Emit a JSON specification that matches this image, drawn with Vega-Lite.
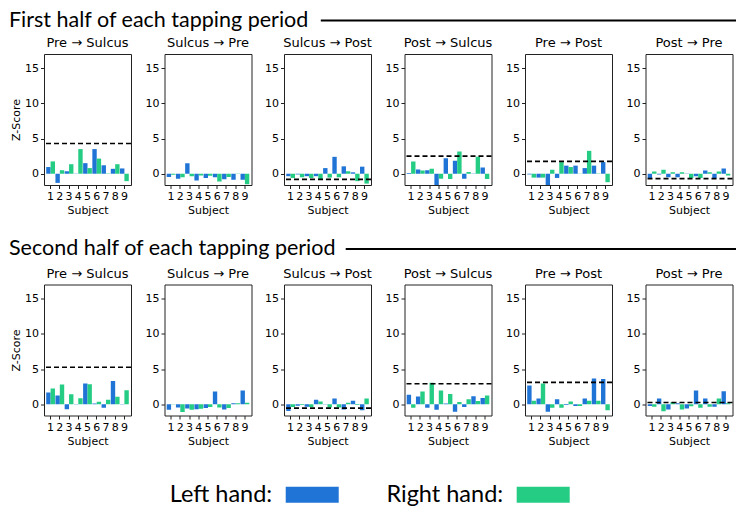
{
  "$schema": "https://vega.github.io/schema/vega-lite/v6.json",
  "background": "white",
  "padding": {"left": 8, "top": 9.5, "right": 2, "bottom": 2},
  "config": {
    "view": {"stroke": "#222", "strokeWidth": 1},
    "axis": {"domain": false, "grid": false, "tickColor": "#222", "tickSize": 3.5, "labelFont": "DejaVu Sans", "labelFontSize": 11, "labelColor": "#000", "labelPadding": 2, "titleFont": "DejaVu Sans", "titleFontSize": 11, "titleFontWeight": "normal", "titleColor": "#000", "titlePadding": 3},
    "axisX": {"labelAngle": 0},
    "title": {"font": "DejaVu Sans", "fontSize": 13, "fontWeight": "normal", "color": "#000", "offset": 4}
  },
  "datasets": {
    "z": [
      {"half": "first", "pair": "Pre → Sulcus", "subject": 1, "Left hand": 0.95, "Right hand": 1.75},
      {"half": "first", "pair": "Pre → Sulcus", "subject": 2, "Left hand": -1.3, "Right hand": 0.5},
      {"half": "first", "pair": "Pre → Sulcus", "subject": 3, "Left hand": 0.35, "Right hand": 1.35},
      {"half": "first", "pair": "Pre → Sulcus", "subject": 4, "Left hand": 0.03, "Right hand": 3.5},
      {"half": "first", "pair": "Pre → Sulcus", "subject": 5, "Left hand": 1.5, "Right hand": 0.8},
      {"half": "first", "pair": "Pre → Sulcus", "subject": 6, "Left hand": 3.5, "Right hand": 2.15},
      {"half": "first", "pair": "Pre → Sulcus", "subject": 7, "Left hand": 1.2, "Right hand": 0.05},
      {"half": "first", "pair": "Pre → Sulcus", "subject": 8, "Left hand": 0.7, "Right hand": 1.35},
      {"half": "first", "pair": "Pre → Sulcus", "subject": 9, "Left hand": 0.75, "Right hand": -1.05},
      {"half": "first", "pair": "Sulcus → Pre", "subject": 1, "Left hand": -0.45, "Right hand": -0.15},
      {"half": "first", "pair": "Sulcus → Pre", "subject": 2, "Left hand": -0.7, "Right hand": -0.5},
      {"half": "first", "pair": "Sulcus → Pre", "subject": 3, "Left hand": 1.5, "Right hand": -0.35},
      {"half": "first", "pair": "Sulcus → Pre", "subject": 4, "Left hand": -0.95, "Right hand": -0.25},
      {"half": "first", "pair": "Sulcus → Pre", "subject": 5, "Left hand": -0.6, "Right hand": -0.3},
      {"half": "first", "pair": "Sulcus → Pre", "subject": 6, "Left hand": -0.5, "Right hand": -1.1},
      {"half": "first", "pair": "Sulcus → Pre", "subject": 7, "Left hand": -0.8, "Right hand": -0.45},
      {"half": "first", "pair": "Sulcus → Pre", "subject": 8, "Left hand": -0.85, "Right hand": -0.05},
      {"half": "first", "pair": "Sulcus → Pre", "subject": 9, "Left hand": -0.85, "Right hand": -1.5},
      {"half": "first", "pair": "Sulcus → Post", "subject": 1, "Left hand": -0.35, "Right hand": -0.6},
      {"half": "first", "pair": "Sulcus → Post", "subject": 2, "Left hand": -0.1, "Right hand": -0.5},
      {"half": "first", "pair": "Sulcus → Post", "subject": 3, "Left hand": -0.35, "Right hand": -0.6},
      {"half": "first", "pair": "Sulcus → Post", "subject": 4, "Left hand": -0.35, "Right hand": -0.85},
      {"half": "first", "pair": "Sulcus → Post", "subject": 5, "Left hand": 0.8, "Right hand": -0.55},
      {"half": "first", "pair": "Sulcus → Post", "subject": 6, "Left hand": 2.4, "Right hand": -0.5},
      {"half": "first", "pair": "Sulcus → Post", "subject": 7, "Left hand": 1.05, "Right hand": 0.35},
      {"half": "first", "pair": "Sulcus → Post", "subject": 8, "Left hand": 0.2, "Right hand": -1.05},
      {"half": "first", "pair": "Sulcus → Post", "subject": 9, "Left hand": 1.0, "Right hand": -1.4},
      {"half": "first", "pair": "Post → Sulcus", "subject": 1, "Left hand": 0.1, "Right hand": 1.75},
      {"half": "first", "pair": "Post → Sulcus", "subject": 2, "Left hand": 0.6, "Right hand": 0.45},
      {"half": "first", "pair": "Post → Sulcus", "subject": 3, "Left hand": 0.5, "Right hand": 0.7},
      {"half": "first", "pair": "Post → Sulcus", "subject": 4, "Left hand": -1.6, "Right hand": -0.7},
      {"half": "first", "pair": "Post → Sulcus", "subject": 5, "Left hand": 2.2, "Right hand": -0.75},
      {"half": "first", "pair": "Post → Sulcus", "subject": 6, "Left hand": 1.85, "Right hand": 3.15},
      {"half": "first", "pair": "Post → Sulcus", "subject": 7, "Left hand": -0.7, "Right hand": 0.25},
      {"half": "first", "pair": "Post → Sulcus", "subject": 8, "Left hand": 0.02, "Right hand": 2.4},
      {"half": "first", "pair": "Post → Sulcus", "subject": 9, "Left hand": 0.9, "Right hand": -0.75},
      {"half": "first", "pair": "Pre → Post", "subject": 1, "Left hand": -0.1, "Right hand": -0.55},
      {"half": "first", "pair": "Pre → Post", "subject": 2, "Left hand": -0.55, "Right hand": -0.55},
      {"half": "first", "pair": "Pre → Post", "subject": 3, "Left hand": -1.6, "Right hand": 0.55},
      {"half": "first", "pair": "Pre → Post", "subject": 4, "Left hand": -0.6, "Right hand": 1.65},
      {"half": "first", "pair": "Pre → Post", "subject": 5, "Left hand": 1.15, "Right hand": 0.95},
      {"half": "first", "pair": "Pre → Post", "subject": 6, "Left hand": 1.15, "Right hand": 0.03},
      {"half": "first", "pair": "Pre → Post", "subject": 7, "Left hand": 0.8, "Right hand": 3.25},
      {"half": "first", "pair": "Pre → Post", "subject": 8, "Left hand": 1.15, "Right hand": 0.05},
      {"half": "first", "pair": "Pre → Post", "subject": 9, "Left hand": 1.65, "Right hand": -1.2},
      {"half": "first", "pair": "Post → Pre", "subject": 1, "Left hand": -0.6, "Right hand": 0.3},
      {"half": "first", "pair": "Post → Pre", "subject": 2, "Left hand": -0.1, "Right hand": 0.55},
      {"half": "first", "pair": "Post → Pre", "subject": 3, "Left hand": -0.5, "Right hand": 0.2},
      {"half": "first", "pair": "Post → Pre", "subject": 4, "Left hand": -0.5, "Right hand": 0.2},
      {"half": "first", "pair": "Post → Pre", "subject": 5, "Left hand": 0.02, "Right hand": -0.6},
      {"half": "first", "pair": "Post → Pre", "subject": 6, "Left hand": -0.35, "Right hand": -0.6},
      {"half": "first", "pair": "Post → Pre", "subject": 7, "Left hand": 0.45, "Right hand": 0.2},
      {"half": "first", "pair": "Post → Pre", "subject": 8, "Left hand": -0.65, "Right hand": 0.3},
      {"half": "first", "pair": "Post → Pre", "subject": 9, "Left hand": 0.75, "Right hand": -0.25},
      {"half": "second", "pair": "Pre → Sulcus", "subject": 1, "Left hand": 1.65, "Right hand": 2.25},
      {"half": "second", "pair": "Pre → Sulcus", "subject": 2, "Left hand": 1.25, "Right hand": 2.8},
      {"half": "second", "pair": "Pre → Sulcus", "subject": 3, "Left hand": -0.7, "Right hand": 1.4},
      {"half": "second", "pair": "Pre → Sulcus", "subject": 4, "Left hand": 0.05, "Right hand": 0.85},
      {"half": "second", "pair": "Pre → Sulcus", "subject": 5, "Left hand": 2.95, "Right hand": 2.85},
      {"half": "second", "pair": "Pre → Sulcus", "subject": 6, "Left hand": 0.1, "Right hand": 0.35},
      {"half": "second", "pair": "Pre → Sulcus", "subject": 7, "Left hand": -0.5, "Right hand": 0.65},
      {"half": "second", "pair": "Pre → Sulcus", "subject": 8, "Left hand": 3.3, "Right hand": 1.05},
      {"half": "second", "pair": "Pre → Sulcus", "subject": 9, "Left hand": 0.05, "Right hand": 2.0},
      {"half": "second", "pair": "Sulcus → Pre", "subject": 1, "Left hand": -0.8, "Right hand": -0.05},
      {"half": "second", "pair": "Sulcus → Pre", "subject": 2, "Left hand": -0.45, "Right hand": -1.1},
      {"half": "second", "pair": "Sulcus → Pre", "subject": 3, "Left hand": -0.6, "Right hand": -0.8},
      {"half": "second", "pair": "Sulcus → Pre", "subject": 4, "Left hand": -0.7, "Right hand": -0.65},
      {"half": "second", "pair": "Sulcus → Pre", "subject": 5, "Left hand": -0.55, "Right hand": -0.4},
      {"half": "second", "pair": "Sulcus → Pre", "subject": 6, "Left hand": 1.8, "Right hand": -0.45},
      {"half": "second", "pair": "Sulcus → Pre", "subject": 7, "Left hand": -0.75, "Right hand": -0.55},
      {"half": "second", "pair": "Sulcus → Pre", "subject": 8, "Left hand": 0.15, "Right hand": 0.15},
      {"half": "second", "pair": "Sulcus → Pre", "subject": 9, "Left hand": 1.95, "Right hand": 0.2},
      {"half": "second", "pair": "Sulcus → Post", "subject": 1, "Left hand": -0.95, "Right hand": -0.4},
      {"half": "second", "pair": "Sulcus → Post", "subject": 2, "Left hand": -0.2, "Right hand": -0.1},
      {"half": "second", "pair": "Sulcus → Post", "subject": 3, "Left hand": -0.35, "Right hand": -0.4},
      {"half": "second", "pair": "Sulcus → Post", "subject": 4, "Left hand": 0.65, "Right hand": 0.4},
      {"half": "second", "pair": "Sulcus → Post", "subject": 5, "Left hand": 0.02, "Right hand": -0.45},
      {"half": "second", "pair": "Sulcus → Post", "subject": 6, "Left hand": 0.8, "Right hand": -0.45},
      {"half": "second", "pair": "Sulcus → Post", "subject": 7, "Left hand": -0.75, "Right hand": 0.2},
      {"half": "second", "pair": "Sulcus → Post", "subject": 8, "Left hand": 0.5, "Right hand": -0.1},
      {"half": "second", "pair": "Sulcus → Post", "subject": 9, "Left hand": -0.85, "Right hand": 0.8},
      {"half": "second", "pair": "Post → Sulcus", "subject": 1, "Left hand": 1.35, "Right hand": -0.5},
      {"half": "second", "pair": "Post → Sulcus", "subject": 2, "Left hand": 1.1, "Right hand": 1.8},
      {"half": "second", "pair": "Post → Sulcus", "subject": 3, "Left hand": -0.5, "Right hand": 3.05},
      {"half": "second", "pair": "Post → Sulcus", "subject": 4, "Left hand": -0.8, "Right hand": 1.95},
      {"half": "second", "pair": "Post → Sulcus", "subject": 5, "Left hand": 0.1, "Right hand": 1.45},
      {"half": "second", "pair": "Post → Sulcus", "subject": 6, "Left hand": -1.05, "Right hand": 0.3},
      {"half": "second", "pair": "Post → Sulcus", "subject": 7, "Left hand": -0.4, "Right hand": 0.7},
      {"half": "second", "pair": "Post → Sulcus", "subject": 8, "Left hand": 1.15, "Right hand": 0.45},
      {"half": "second", "pair": "Post → Sulcus", "subject": 9, "Left hand": 0.9, "Right hand": 1.25},
      {"half": "second", "pair": "Pre → Post", "subject": 1, "Left hand": 2.65, "Right hand": 0.5},
      {"half": "second", "pair": "Pre → Post", "subject": 2, "Left hand": 0.8, "Right hand": 2.95},
      {"half": "second", "pair": "Pre → Post", "subject": 3, "Left hand": -1.05, "Right hand": -0.5},
      {"half": "second", "pair": "Pre → Post", "subject": 4, "Left hand": 0.7, "Right hand": -0.5},
      {"half": "second", "pair": "Pre → Post", "subject": 5, "Left hand": -0.1, "Right hand": 0.4},
      {"half": "second", "pair": "Pre → Post", "subject": 6, "Left hand": -0.25, "Right hand": -0.25},
      {"half": "second", "pair": "Pre → Post", "subject": 7, "Left hand": 0.8, "Right hand": 0.5},
      {"half": "second", "pair": "Pre → Post", "subject": 8, "Left hand": 3.65, "Right hand": 0.5},
      {"half": "second", "pair": "Pre → Post", "subject": 9, "Left hand": 3.6, "Right hand": -0.85},
      {"half": "second", "pair": "Post → Pre", "subject": 1, "Left hand": -0.25, "Right hand": -0.35},
      {"half": "second", "pair": "Post → Pre", "subject": 2, "Left hand": 0.8, "Right hand": -1.0},
      {"half": "second", "pair": "Post → Pre", "subject": 3, "Left hand": -0.75, "Right hand": 0.3},
      {"half": "second", "pair": "Post → Pre", "subject": 4, "Left hand": 0.15, "Right hand": -0.75},
      {"half": "second", "pair": "Post → Pre", "subject": 5, "Left hand": -0.6, "Right hand": -0.3},
      {"half": "second", "pair": "Post → Pre", "subject": 6, "Left hand": 1.95, "Right hand": -0.5},
      {"half": "second", "pair": "Post → Pre", "subject": 7, "Left hand": 0.8, "Right hand": -0.35},
      {"half": "second", "pair": "Post → Pre", "subject": 8, "Left hand": -0.35, "Right hand": 0.8},
      {"half": "second", "pair": "Post → Pre", "subject": 9, "Left hand": 1.85, "Right hand": 0.15}
    ],
    "thr": [
      {"half": "first", "pair": "Pre → Sulcus", "z": 4.3},
      {"half": "first", "pair": "Sulcus → Post", "z": -0.8},
      {"half": "first", "pair": "Post → Sulcus", "z": 2.5},
      {"half": "first", "pair": "Pre → Post", "z": 1.75},
      {"half": "first", "pair": "Post → Pre", "z": -0.7},
      {"half": "second", "pair": "Pre → Sulcus", "z": 5.25},
      {"half": "second", "pair": "Sulcus → Post", "z": -0.55},
      {"half": "second", "pair": "Post → Sulcus", "z": 2.9},
      {"half": "second", "pair": "Pre → Post", "z": 3.1},
      {"half": "second", "pair": "Post → Pre", "z": 0.25}
    ]
  },
  "vconcat": [
    {
      "vconcat": [
        {
          "width": 692, "height": 22, "view": {"stroke": null},
          "data": {"values": [{"section": "First half of each tapping period"}]},
          "layer": [
            {"mark": {"type": "text", "align": "left", "baseline": "middle", "font": "Lato", "fontSize": 21.5, "color": "#000"},
             "encoding": {"x": {"datum": -0.0506, "type": "quantitative", "scale": {"domain": [0, 1], "nice": false, "zero": false}, "axis": null},
                          "text": {"field": "section"}}},
            {"mark": {"type": "rule", "strokeWidth": 2, "color": "#000"},
             "encoding": {"x": {"datum": 0.4, "type": "quantitative"}, "x2": {"datum": 1}}}
          ]
        },
        {
          "hconcat": [
            {"title": "Pre → Sulcus", "width": 87, "height": 131, "layer": [
              {"data": {"name": "z"}, "transform": [{"filter": "datum.half === 'first' && datum.pair === 'Pre → Sulcus'"}, {"fold": ["Left hand", "Right hand"], "as": ["hand", "z"]}],
               "mark": {"type": "bar", "clip": true},
               "encoding": {
                 "x": {"field": "subject", "type": "ordinal", "title": "Subject", "scale": {"paddingInner": 0.05, "paddingOuter": 0.24}},
                 "xOffset": {"field": "hand", "type": "nominal", "scale": {"domain": ["Left hand", "Right hand"], "paddingInner": 0, "paddingOuter": 0}},
                 "y": {"field": "z", "type": "quantitative", "title": "Z-Score", "scale": {"domain": [-1.6, 17], "nice": false}, "axis": {"values": [0, 5, 10, 15]}},
                 "color": {"field": "hand", "type": "nominal", "scale": {"domain": ["Left hand", "Right hand"], "range": ["#1f74d6", "#24cc84"]}, "legend": null}}},
              {"data": {"name": "thr"}, "transform": [{"filter": "datum.half === 'first' && datum.pair === 'Pre → Sulcus'"}],
               "mark": {"type": "rule", "strokeDash": [5, 3], "strokeWidth": 1.6, "color": "#000"},
               "encoding": {"y": {"field": "z", "type": "quantitative", "title": "Z-Score"}}}
            ]},
            {"title": "Sulcus → Pre", "width": 87, "height": 131, "layer": [
              {"data": {"name": "z"}, "transform": [{"filter": "datum.half === 'first' && datum.pair === 'Sulcus → Pre'"}, {"fold": ["Left hand", "Right hand"], "as": ["hand", "z"]}],
               "mark": {"type": "bar", "clip": true},
               "encoding": {
                 "x": {"field": "subject", "type": "ordinal", "title": "Subject", "scale": {"paddingInner": 0.05, "paddingOuter": 0.24}},
                 "xOffset": {"field": "hand", "type": "nominal", "scale": {"domain": ["Left hand", "Right hand"], "paddingInner": 0, "paddingOuter": 0}},
                 "y": {"field": "z", "type": "quantitative", "title": null, "scale": {"domain": [-1.6, 17], "nice": false}, "axis": {"values": [0, 5, 10, 15]}},
                 "color": {"field": "hand", "type": "nominal", "scale": {"domain": ["Left hand", "Right hand"], "range": ["#1f74d6", "#24cc84"]}, "legend": null}}},
              {"data": {"name": "thr"}, "transform": [{"filter": "datum.half === 'first' && datum.pair === 'Sulcus → Pre'"}],
               "mark": {"type": "rule", "strokeDash": [5, 3], "strokeWidth": 1.6, "color": "#000"},
               "encoding": {"y": {"field": "z", "type": "quantitative", "title": null}}}
            ]},
            {"title": "Sulcus → Post", "width": 87, "height": 131, "layer": [
              {"data": {"name": "z"}, "transform": [{"filter": "datum.half === 'first' && datum.pair === 'Sulcus → Post'"}, {"fold": ["Left hand", "Right hand"], "as": ["hand", "z"]}],
               "mark": {"type": "bar", "clip": true},
               "encoding": {
                 "x": {"field": "subject", "type": "ordinal", "title": "Subject", "scale": {"paddingInner": 0.05, "paddingOuter": 0.24}},
                 "xOffset": {"field": "hand", "type": "nominal", "scale": {"domain": ["Left hand", "Right hand"], "paddingInner": 0, "paddingOuter": 0}},
                 "y": {"field": "z", "type": "quantitative", "title": null, "scale": {"domain": [-1.6, 17], "nice": false}, "axis": {"values": [0, 5, 10, 15]}},
                 "color": {"field": "hand", "type": "nominal", "scale": {"domain": ["Left hand", "Right hand"], "range": ["#1f74d6", "#24cc84"]}, "legend": null}}},
              {"data": {"name": "thr"}, "transform": [{"filter": "datum.half === 'first' && datum.pair === 'Sulcus → Post'"}],
               "mark": {"type": "rule", "strokeDash": [5, 3], "strokeWidth": 1.6, "color": "#000"},
               "encoding": {"y": {"field": "z", "type": "quantitative", "title": null}}}
            ]},
            {"title": "Post → Sulcus", "width": 87, "height": 131, "layer": [
              {"data": {"name": "z"}, "transform": [{"filter": "datum.half === 'first' && datum.pair === 'Post → Sulcus'"}, {"fold": ["Left hand", "Right hand"], "as": ["hand", "z"]}],
               "mark": {"type": "bar", "clip": true},
               "encoding": {
                 "x": {"field": "subject", "type": "ordinal", "title": "Subject", "scale": {"paddingInner": 0.05, "paddingOuter": 0.24}},
                 "xOffset": {"field": "hand", "type": "nominal", "scale": {"domain": ["Left hand", "Right hand"], "paddingInner": 0, "paddingOuter": 0}},
                 "y": {"field": "z", "type": "quantitative", "title": null, "scale": {"domain": [-1.6, 17], "nice": false}, "axis": {"values": [0, 5, 10, 15]}},
                 "color": {"field": "hand", "type": "nominal", "scale": {"domain": ["Left hand", "Right hand"], "range": ["#1f74d6", "#24cc84"]}, "legend": null}}},
              {"data": {"name": "thr"}, "transform": [{"filter": "datum.half === 'first' && datum.pair === 'Post → Sulcus'"}],
               "mark": {"type": "rule", "strokeDash": [5, 3], "strokeWidth": 1.6, "color": "#000"},
               "encoding": {"y": {"field": "z", "type": "quantitative", "title": null}}}
            ]},
            {"title": "Pre → Post", "width": 87, "height": 131, "layer": [
              {"data": {"name": "z"}, "transform": [{"filter": "datum.half === 'first' && datum.pair === 'Pre → Post'"}, {"fold": ["Left hand", "Right hand"], "as": ["hand", "z"]}],
               "mark": {"type": "bar", "clip": true},
               "encoding": {
                 "x": {"field": "subject", "type": "ordinal", "title": "Subject", "scale": {"paddingInner": 0.05, "paddingOuter": 0.24}},
                 "xOffset": {"field": "hand", "type": "nominal", "scale": {"domain": ["Left hand", "Right hand"], "paddingInner": 0, "paddingOuter": 0}},
                 "y": {"field": "z", "type": "quantitative", "title": null, "scale": {"domain": [-1.6, 17], "nice": false}, "axis": {"values": [0, 5, 10, 15]}},
                 "color": {"field": "hand", "type": "nominal", "scale": {"domain": ["Left hand", "Right hand"], "range": ["#1f74d6", "#24cc84"]}, "legend": null}}},
              {"data": {"name": "thr"}, "transform": [{"filter": "datum.half === 'first' && datum.pair === 'Pre → Post'"}],
               "mark": {"type": "rule", "strokeDash": [5, 3], "strokeWidth": 1.6, "color": "#000"},
               "encoding": {"y": {"field": "z", "type": "quantitative", "title": null}}}
            ]},
            {"title": "Post → Pre", "width": 87, "height": 131, "layer": [
              {"data": {"name": "z"}, "transform": [{"filter": "datum.half === 'first' && datum.pair === 'Post → Pre'"}, {"fold": ["Left hand", "Right hand"], "as": ["hand", "z"]}],
               "mark": {"type": "bar", "clip": true},
               "encoding": {
                 "x": {"field": "subject", "type": "ordinal", "title": "Subject", "scale": {"paddingInner": 0.05, "paddingOuter": 0.24}},
                 "xOffset": {"field": "hand", "type": "nominal", "scale": {"domain": ["Left hand", "Right hand"], "paddingInner": 0, "paddingOuter": 0}},
                 "y": {"field": "z", "type": "quantitative", "title": null, "scale": {"domain": [-1.6, 17], "nice": false}, "axis": {"values": [0, 5, 10, 15]}},
                 "color": {"field": "hand", "type": "nominal", "scale": {"domain": ["Left hand", "Right hand"], "range": ["#1f74d6", "#24cc84"]}, "legend": null}}},
              {"data": {"name": "thr"}, "transform": [{"filter": "datum.half === 'first' && datum.pair === 'Post → Pre'"}],
               "mark": {"type": "rule", "strokeDash": [5, 3], "strokeWidth": 1.6, "color": "#000"},
               "encoding": {"y": {"field": "z", "type": "quantitative", "title": null}}}
            ]}
          ],
          "spacing": 11.5
        }
      ],
      "spacing": 4.5
    },
    {
      "vconcat": [
        {
          "vconcat": [
            {
              "width": 692, "height": 22, "view": {"stroke": null},
              "data": {"values": [{"section": "Second half of each tapping period"}]},
              "layer": [
                {"mark": {"type": "text", "align": "left", "baseline": "middle", "font": "Lato", "fontSize": 21.5, "color": "#000"},
                 "encoding": {"x": {"datum": -0.0506, "type": "quantitative", "scale": {"domain": [0, 1], "nice": false, "zero": false}, "axis": null},
                              "text": {"field": "section"}}},
                {"mark": {"type": "rule", "strokeWidth": 2, "color": "#000"},
                 "encoding": {"x": {"datum": 0.436, "type": "quantitative"}, "x2": {"datum": 1}}}
              ]
            },
            {
              "hconcat": [
                {"title": "Pre → Sulcus", "width": 87, "height": 131, "layer": [
                  {"data": {"name": "z"}, "transform": [{"filter": "datum.half === 'second' && datum.pair === 'Pre → Sulcus'"}, {"fold": ["Left hand", "Right hand"], "as": ["hand", "z"]}],
                   "mark": {"type": "bar", "clip": true},
                   "encoding": {
                     "x": {"field": "subject", "type": "ordinal", "title": "Subject", "scale": {"paddingInner": 0.05, "paddingOuter": 0.24}},
                     "xOffset": {"field": "hand", "type": "nominal", "scale": {"domain": ["Left hand", "Right hand"], "paddingInner": 0, "paddingOuter": 0}},
                     "y": {"field": "z", "type": "quantitative", "title": "Z-Score", "scale": {"domain": [-1.6, 17], "nice": false}, "axis": {"values": [0, 5, 10, 15]}},
                     "color": {"field": "hand", "type": "nominal", "scale": {"domain": ["Left hand", "Right hand"], "range": ["#1f74d6", "#24cc84"]}, "legend": null}}},
                  {"data": {"name": "thr"}, "transform": [{"filter": "datum.half === 'second' && datum.pair === 'Pre → Sulcus'"}],
                   "mark": {"type": "rule", "strokeDash": [5, 3], "strokeWidth": 1.6, "color": "#000"},
                   "encoding": {"y": {"field": "z", "type": "quantitative", "title": "Z-Score"}}}
                ]},
                {"title": "Sulcus → Pre", "width": 87, "height": 131, "layer": [
                  {"data": {"name": "z"}, "transform": [{"filter": "datum.half === 'second' && datum.pair === 'Sulcus → Pre'"}, {"fold": ["Left hand", "Right hand"], "as": ["hand", "z"]}],
                   "mark": {"type": "bar", "clip": true},
                   "encoding": {
                     "x": {"field": "subject", "type": "ordinal", "title": "Subject", "scale": {"paddingInner": 0.05, "paddingOuter": 0.24}},
                     "xOffset": {"field": "hand", "type": "nominal", "scale": {"domain": ["Left hand", "Right hand"], "paddingInner": 0, "paddingOuter": 0}},
                     "y": {"field": "z", "type": "quantitative", "title": null, "scale": {"domain": [-1.6, 17], "nice": false}, "axis": {"values": [0, 5, 10, 15]}},
                     "color": {"field": "hand", "type": "nominal", "scale": {"domain": ["Left hand", "Right hand"], "range": ["#1f74d6", "#24cc84"]}, "legend": null}}},
                  {"data": {"name": "thr"}, "transform": [{"filter": "datum.half === 'second' && datum.pair === 'Sulcus → Pre'"}],
                   "mark": {"type": "rule", "strokeDash": [5, 3], "strokeWidth": 1.6, "color": "#000"},
                   "encoding": {"y": {"field": "z", "type": "quantitative", "title": null}}}
                ]},
                {"title": "Sulcus → Post", "width": 87, "height": 131, "layer": [
                  {"data": {"name": "z"}, "transform": [{"filter": "datum.half === 'second' && datum.pair === 'Sulcus → Post'"}, {"fold": ["Left hand", "Right hand"], "as": ["hand", "z"]}],
                   "mark": {"type": "bar", "clip": true},
                   "encoding": {
                     "x": {"field": "subject", "type": "ordinal", "title": "Subject", "scale": {"paddingInner": 0.05, "paddingOuter": 0.24}},
                     "xOffset": {"field": "hand", "type": "nominal", "scale": {"domain": ["Left hand", "Right hand"], "paddingInner": 0, "paddingOuter": 0}},
                     "y": {"field": "z", "type": "quantitative", "title": null, "scale": {"domain": [-1.6, 17], "nice": false}, "axis": {"values": [0, 5, 10, 15]}},
                     "color": {"field": "hand", "type": "nominal", "scale": {"domain": ["Left hand", "Right hand"], "range": ["#1f74d6", "#24cc84"]}, "legend": null}}},
                  {"data": {"name": "thr"}, "transform": [{"filter": "datum.half === 'second' && datum.pair === 'Sulcus → Post'"}],
                   "mark": {"type": "rule", "strokeDash": [5, 3], "strokeWidth": 1.6, "color": "#000"},
                   "encoding": {"y": {"field": "z", "type": "quantitative", "title": null}}}
                ]},
                {"title": "Post → Sulcus", "width": 87, "height": 131, "layer": [
                  {"data": {"name": "z"}, "transform": [{"filter": "datum.half === 'second' && datum.pair === 'Post → Sulcus'"}, {"fold": ["Left hand", "Right hand"], "as": ["hand", "z"]}],
                   "mark": {"type": "bar", "clip": true},
                   "encoding": {
                     "x": {"field": "subject", "type": "ordinal", "title": "Subject", "scale": {"paddingInner": 0.05, "paddingOuter": 0.24}},
                     "xOffset": {"field": "hand", "type": "nominal", "scale": {"domain": ["Left hand", "Right hand"], "paddingInner": 0, "paddingOuter": 0}},
                     "y": {"field": "z", "type": "quantitative", "title": null, "scale": {"domain": [-1.6, 17], "nice": false}, "axis": {"values": [0, 5, 10, 15]}},
                     "color": {"field": "hand", "type": "nominal", "scale": {"domain": ["Left hand", "Right hand"], "range": ["#1f74d6", "#24cc84"]}, "legend": null}}},
                  {"data": {"name": "thr"}, "transform": [{"filter": "datum.half === 'second' && datum.pair === 'Post → Sulcus'"}],
                   "mark": {"type": "rule", "strokeDash": [5, 3], "strokeWidth": 1.6, "color": "#000"},
                   "encoding": {"y": {"field": "z", "type": "quantitative", "title": null}}}
                ]},
                {"title": "Pre → Post", "width": 87, "height": 131, "layer": [
                  {"data": {"name": "z"}, "transform": [{"filter": "datum.half === 'second' && datum.pair === 'Pre → Post'"}, {"fold": ["Left hand", "Right hand"], "as": ["hand", "z"]}],
                   "mark": {"type": "bar", "clip": true},
                   "encoding": {
                     "x": {"field": "subject", "type": "ordinal", "title": "Subject", "scale": {"paddingInner": 0.05, "paddingOuter": 0.24}},
                     "xOffset": {"field": "hand", "type": "nominal", "scale": {"domain": ["Left hand", "Right hand"], "paddingInner": 0, "paddingOuter": 0}},
                     "y": {"field": "z", "type": "quantitative", "title": null, "scale": {"domain": [-1.6, 17], "nice": false}, "axis": {"values": [0, 5, 10, 15]}},
                     "color": {"field": "hand", "type": "nominal", "scale": {"domain": ["Left hand", "Right hand"], "range": ["#1f74d6", "#24cc84"]}, "legend": null}}},
                  {"data": {"name": "thr"}, "transform": [{"filter": "datum.half === 'second' && datum.pair === 'Pre → Post'"}],
                   "mark": {"type": "rule", "strokeDash": [5, 3], "strokeWidth": 1.6, "color": "#000"},
                   "encoding": {"y": {"field": "z", "type": "quantitative", "title": null}}}
                ]},
                {"title": "Post → Pre", "width": 87, "height": 131, "layer": [
                  {"data": {"name": "z"}, "transform": [{"filter": "datum.half === 'second' && datum.pair === 'Post → Pre'"}, {"fold": ["Left hand", "Right hand"], "as": ["hand", "z"]}],
                   "mark": {"type": "bar", "clip": true},
                   "encoding": {
                     "x": {"field": "subject", "type": "ordinal", "title": "Subject", "scale": {"paddingInner": 0.05, "paddingOuter": 0.24}},
                     "xOffset": {"field": "hand", "type": "nominal", "scale": {"domain": ["Left hand", "Right hand"], "paddingInner": 0, "paddingOuter": 0}},
                     "y": {"field": "z", "type": "quantitative", "title": null, "scale": {"domain": [-1.6, 17], "nice": false}, "axis": {"values": [0, 5, 10, 15]}},
                     "color": {"field": "hand", "type": "nominal", "scale": {"domain": ["Left hand", "Right hand"], "range": ["#1f74d6", "#24cc84"]}, "legend": null}}},
                  {"data": {"name": "thr"}, "transform": [{"filter": "datum.half === 'second' && datum.pair === 'Post → Pre'"}],
                   "mark": {"type": "rule", "strokeDash": [5, 3], "strokeWidth": 1.6, "color": "#000"},
                   "encoding": {"y": {"field": "z", "type": "quantitative", "title": null}}}
                ]}
              ],
              "spacing": 11.5
            }
          ],
          "spacing": 6.5
        },
        {
          "width": 692, "height": 16, "view": {"stroke": null},
          "data": {"values": [{"hand": "Left hand", "label": "Left hand:"}, {"hand": "Right hand", "label": "Right hand:"}]},
          "encoding": {"x": {"field": "hand", "type": "nominal", "scale": {"type": "point", "padding": 0.998, "align": 0.5818}, "axis": null}},
          "layer": [
            {"mark": {"type": "bar", "width": 53},
             "encoding": {"color": {"field": "hand", "type": "nominal", "scale": {"domain": ["Left hand", "Right hand"], "range": ["#1f74d6", "#24cc84"]}, "legend": null}}},
            {"mark": {"type": "text", "align": "right", "baseline": "middle", "dx": -40, "font": "Lato", "fontSize": 23.5, "color": "#000"},
             "encoding": {"text": {"field": "label"}}}
          ]
        }
      ],
      "spacing": 35.75
    }
  ],
  "spacing": 21.5
}
